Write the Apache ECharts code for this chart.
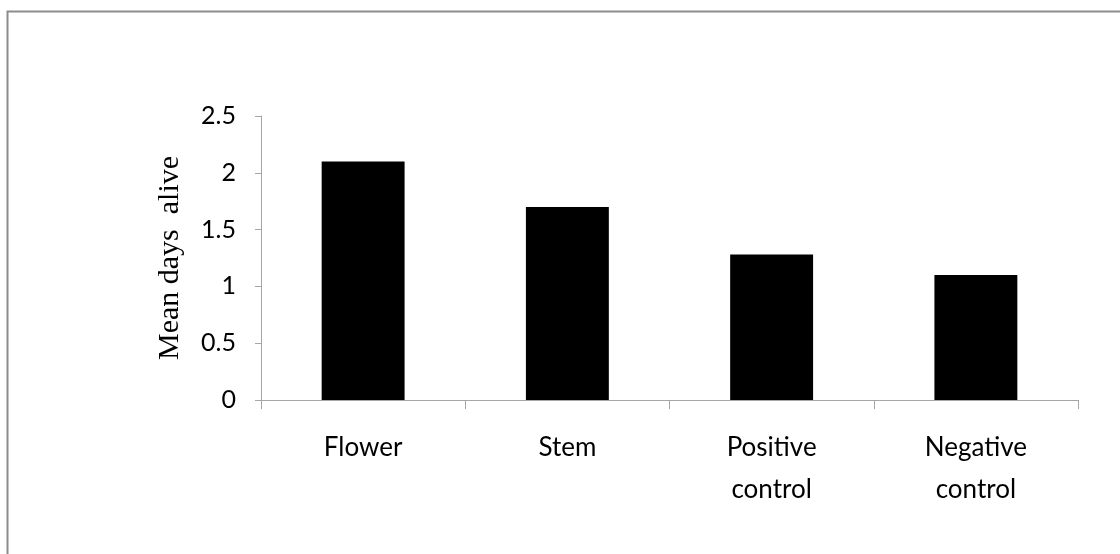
<!DOCTYPE html>
<html>
<head>
<meta charset="utf-8">
<script src="https://cdn.jsdelivr.net/npm/echarts@6/dist/echarts.min.js"></script>
<style>
  html, body { margin: 0; padding: 0; background: #fff; }
  #chart { width: 1120px; height: 554px; }
</style>
</head>
<body>
<div id="chart"></div>
<script>
// Mean survival (days) for each treatment group
const categories = ['Flower', 'Stem', 'Positive\ncontrol', 'Negative\ncontrol'];
const meanDays = [2.1, 1.7, 1.28, 1.1];
const yAxisTitle = 'Mean days  alive';

const chart = echarts.init(document.getElementById('chart'), null, { renderer: 'canvas' });

const axisGray = '#a6a6a6';
const labelFont = 'Lato, "Open Sans", sans-serif';

chart.setOption({
  animation: false,
  backgroundColor: '#ffffff',
  graphic: [{
    type: 'rect',
    shape: { x: 7.5, y: 11.5, width: 1130, height: 560 },
    style: { fill: 'none', stroke: '#8c8c8c', lineWidth: 2 },
    silent: true
  }],
  grid: { left: 261, right: 42, top: 116, bottom: 154 },
  xAxis: {
    type: 'category',
    data: categories,
    axisLine: { lineStyle: { color: axisGray, width: 1 } },
    axisTick: { show: true, length: 9, lineStyle: { color: axisGray } },
    axisLabel: {
      color: '#000',
      fontFamily: labelFont,
      fontSize: 26,
      lineHeight: 42,
      margin: 27
    }
  },
  yAxis: {
    type: 'value',
    min: 0,
    max: 2.5,
    interval: 0.5,
    name: yAxisTitle,
    nameLocation: 'middle',
    nameGap: 76,
    nameTextStyle: {
      color: '#000',
      fontFamily: '"Liberation Serif", "Times New Roman", serif',
      fontSize: 30
    },
    axisLine: { show: true, lineStyle: { color: axisGray, width: 1 } },
    axisTick: { show: true, length: 6, lineStyle: { color: axisGray } },
    splitLine: { show: false },
    axisLabel: {
      color: '#000',
      fontFamily: labelFont,
      fontSize: 25,
      margin: 25
    }
  },
  series: [{
    type: 'bar',
    data: meanDays,
    barWidth: '40.6%',
    itemStyle: { color: '#000000' }
  }]
});
</script>
</body>
</html>
